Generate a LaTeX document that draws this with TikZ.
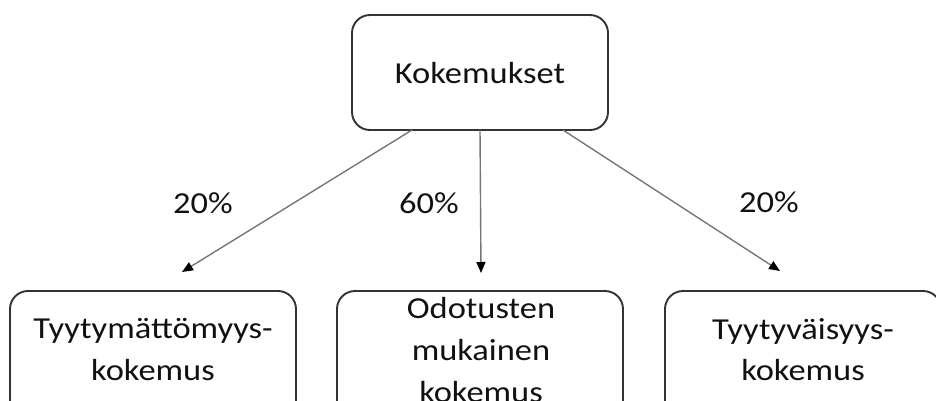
\documentclass[tikz,border=0pt]{standalone}
\usepackage{fontspec}
\setmainfont[FakeStretch=1.13]{Carlito}
\usetikzlibrary{arrows.meta}
\definecolor{boxline}{HTML}{333333}
\definecolor{conline}{HTML}{767676}
\definecolor{txt}{HTML}{111111}
\begin{document}
\begin{tikzpicture}[x=1pt,y=-1pt,
  box/.style={draw=boxline,line width=1.9pt,rounded corners=18pt,inner sep=0pt},
  lbl/.style={text=txt,font=\fontsize{30.5}{42}\selectfont,align=center,inner sep=0pt},
  con/.style={draw=conline,line width=1.4pt,-{Triangle[length=11pt,width=9pt,color=black]}}]
\useasboundingbox (0,0) rectangle (936,400);
\node[box,minimum width=256pt,minimum height=115pt] (top) at (480,72.5) {};
\node[lbl,anchor=base] (toptxt) at (480,83) {Kokemukset};
\node[box,minimum width=286pt,minimum height=150pt] (left) at (153,366) {};
\node[box,minimum width=286pt,minimum height=150pt] (mid) at (480,366) {};
\node[box,minimum width=276pt,minimum height=150pt] (right) at (803,366) {};
\node[lbl,anchor=base] (l1) at (153,338) {Tyytymättömyys-};
\node[lbl,anchor=base] (l2) at (153,380) {kokemus};
\node[lbl,anchor=base] (m1) at (481,318) {Odotusten};
\node[lbl,anchor=base] (m2) at (481,360) {mukainen};
\node[lbl,anchor=base] (m3) at (481,402) {kokemus};
\node[lbl,anchor=base] (r1) at (803,339) {Tyytyväisyys-};
\node[lbl,anchor=base] (r2) at (803,380) {kokemus};
\node[lbl,anchor=base] (p1) at (203,213) {20\%};
\node[lbl,anchor=base] (p2) at (429,213) {60\%};
\node[lbl,anchor=base] (p3) at (769,212) {20\%};
\coordinate (s1) at (412,130);
\coordinate (s2) at (480,130);
\coordinate (s3) at (563,130);
\coordinate (t1) at (182,272);
\coordinate (t2) at (481,273);
\coordinate (t3) at (780,271);
\draw[con] (s1) -- (t1);
\draw[con] (s2) -- (t2);
\draw[con] (s3) -- (t3);
\end{tikzpicture}
\end{document}
